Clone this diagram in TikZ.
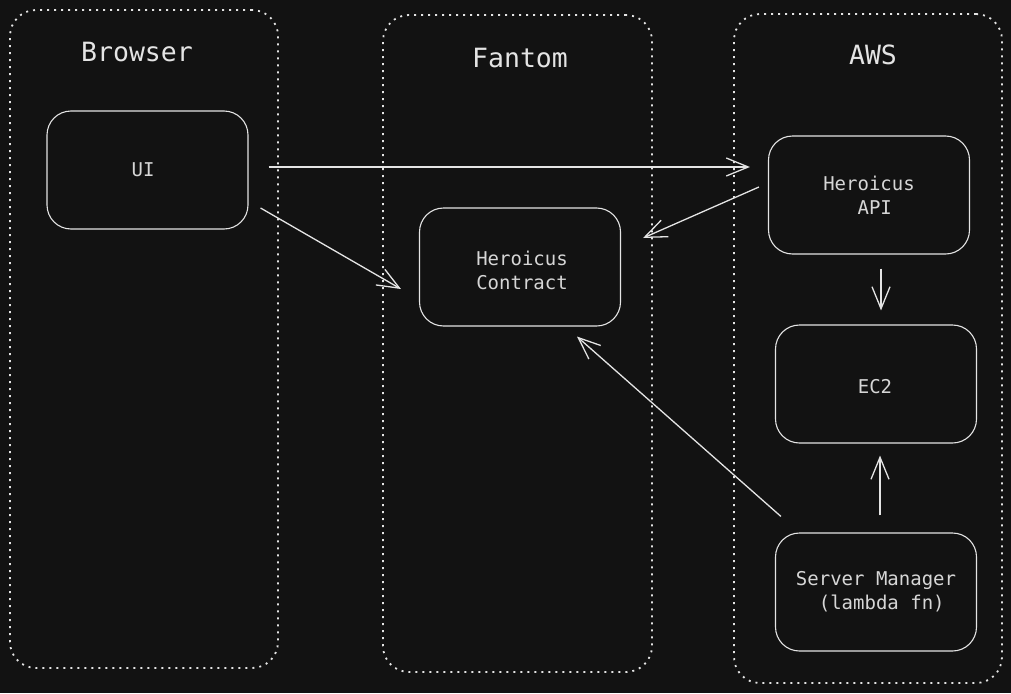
\documentclass[tikz,border=0pt]{standalone}
\usepackage{fontspec}
\setmonofont{DejaVu Sans Mono}
\usetikzlibrary{arrows.meta,calc}
\definecolor{bg}{HTML}{121212}
\definecolor{fg}{HTML}{E4E4E4}
\definecolor{txt}{HTML}{D6D6D6}
\begin{document}
\begin{tikzpicture}[x=1pt,y=-1pt,
  group/.style={draw=fg, line width=1.8pt, dash pattern=on 2pt off 5pt, rounded corners=26pt, minimum width=#1},
  grouptitle/.style={text=fg, font=\ttfamily\fontsize{26.5}{30}\selectfont},
  box/.style={draw=fg, line width=1.1pt, rounded corners=24pt, minimum width=201pt, minimum height=118pt,
              text=txt, align=center, font=\ttfamily\fontsize{19}{24}\selectfont},
  arr/.style={draw=fg, line width=1.3pt, -{Straight Barb[length=22pt,width=18pt,line width=1.3pt]}}]
\useasboundingbox (0,0) rectangle (1011,693);
\fill[bg] (0,0) rectangle (1011,693);
% containers
\node[group=268pt, minimum height=658pt] (browser) at (144,339) {};
\node[group=269pt, minimum height=657pt] (fantom) at (517.5,343.5) {};
\node[group=268pt, minimum height=669pt] (aws) at (868,348.5) {};
\node[grouptitle] (tb) at (137,52) {Browser};
\node[grouptitle] (tf) at (520,58) {Fantom};
\node[grouptitle] (ta) at (873,55) {AWS};
% boxes
\node[box] (ui) at (147.5,170) {};
\node[text=txt, font=\ttfamily\fontsize{19}{24}\selectfont] (uit) at (143,170) {UI};
\node[box] (contract) at (520,267) {};
\node[text=txt, align=center, font=\ttfamily\fontsize{19}{24}\selectfont] (ct) at (522,270) {Heroicus\\Contract};
\node[box] (api) at (869,195) {Heroicus\\\ API};
\node[box] (ec2) at (876,384) {};
\node[text=txt, font=\ttfamily\fontsize{19}{24}\selectfont] (et) at (875,387) {EC2};
\node[box] (sm) at (876,592) {Server Manager\\\ (lambda fn)};
% arrows
\draw[arr] ($(ui.east)+(20,-3)$) -- ($(api.west)+(-18,-28)$);
\draw[arr] ($(ui.east)+(12,38)$) -- ($(contract.west)+(-18,22)$);
\draw[arr] ($(api.west)+(-9,-8)$) -- ($(contract.east)+(22,-29)$);
\draw[arr] ($(api.south)+(12,14)$) -- ($(ec2.north)+(5,-14)$);
\draw[arr] ($(sm.north)+(4,-17)$) -- ($(ec2.south)+(4,12)$);
\draw[arr] ($(sm.north west)+(6,-16)$) -- ($(contract.south)+(57,10)$);
\end{tikzpicture}
\end{document}
